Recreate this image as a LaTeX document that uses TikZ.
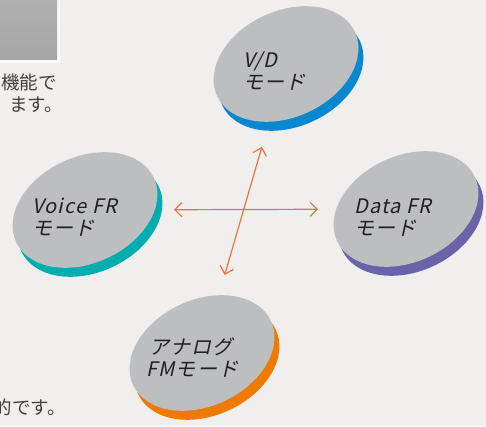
\documentclass[tikz,border=0pt]{standalone}
\usepackage{fontspec}
\setmainfont{Noto Sans CJK JP}
\newfontfamily\modefont{Noto Sans CJK JP}[FakeSlant=0.22,LetterSpace=6]
\usetikzlibrary{shapes.geometric,arrows.meta}
\definecolor{bgpaper}{HTML}{F0EFED}
\definecolor{diskgray}{HTML}{BDBEC0}
\definecolor{vdblue}{HTML}{0A88CF}
\definecolor{voiceteal}{HTML}{00AEB0}
\definecolor{datapurple}{HTML}{6A63AA}
\definecolor{analogorange}{HTML}{EE7A00}
\definecolor{arrowred}{HTML}{E9733F}
\definecolor{labelink}{HTML}{231F20}
\definecolor{noteink}{HTML}{404040}
\begin{document}
\begin{tikzpicture}[x=1pt,y=1pt,
  disk/.style={ellipse, fill=diskgray, minimum width=152, minimum height=106, inner sep=0, rotate=25},
  rim/.style={ellipse, minimum width=152, minimum height=106, inner sep=0, rotate=25},
  modelabel/.style={anchor=north west, align=left, inner sep=0, font=\modefont\fontsize{20}{22}\selectfont, text=labelink},
  modearrow/.style={draw=arrowred, line width=1.2pt, {Straight Barb[length=7pt,width=14pt]}-{Straight Barb[length=7pt,width=14pt]}},
  note/.style={anchor=base east, inner sep=0, font=\fontsize{18.5}{21}\selectfont, text=noteink}]
\useasboundingbox[fill=bgpaper] (0,0) rectangle (486,426);
% title bar, cut at the left edge
\fill[white, opacity=0.7] (0,426) rectangle (60,363);
\shade[top color=gray!62, middle color=gray!25, bottom color=gray!70] (0,426) rectangle (57,366);
\node[note] (intro1) at (57,336) {機能で};
\node[note] (intro2) at (63,314) {ます。};
\node[note] (outro) at (66,12) {的です。};
% the four modes
\node[rim, fill=vdblue] (vdrim) at (291,353) {};
\node[disk] (vd) at (286,362) {};
\node[modelabel] (vdtext) at (243,375) {V/D\\モード};
\node[rim, fill=voiceteal] (voicerim) at (90,207) {};
\node[disk] (voice) at (85,216) {};
\node[modelabel] (voicetext) at (32,228) {Voice FR\\モード};
\node[rim, fill=datapurple] (datarim) at (411,208) {};
\node[disk] (data) at (406,217) {};
\node[modelabel] (datatext) at (354,227) {Data FR\\モード};
\node[rim, fill=analogorange] (analogrim) at (207,64) {};
\node[disk] (analog) at (202,73) {};
\node[modelabel] (analogtext) at (146,89) {\,アナログ\\FMモード};
% switching between modes
\draw[modearrow, shorten <=19pt, shorten >=18pt] (voice) -- (data);
\draw[modearrow, shorten <=26pt, shorten >=21pt] (vd) -- (analog);
\end{tikzpicture}
\end{document}
